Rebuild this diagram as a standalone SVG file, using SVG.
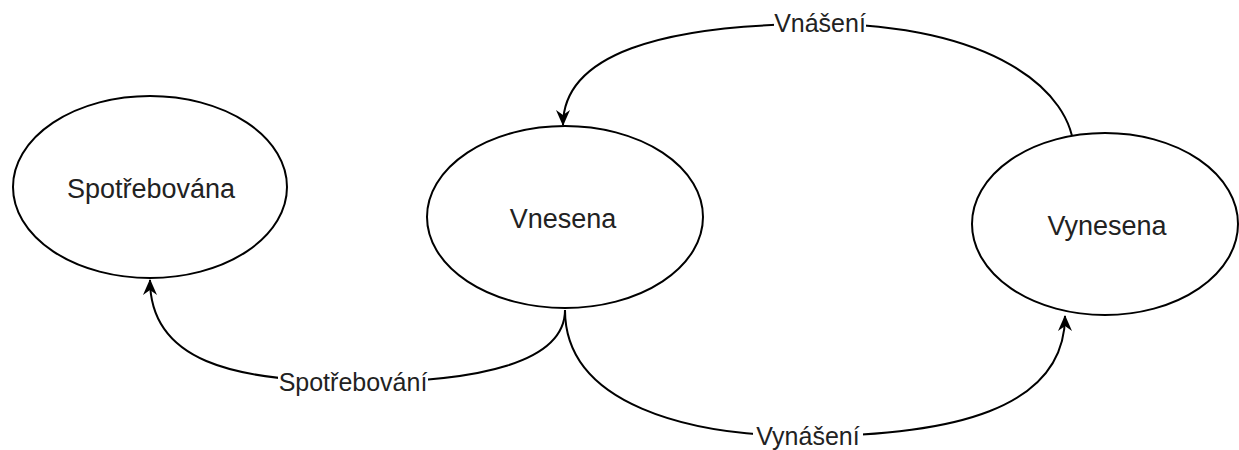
<svg xmlns="http://www.w3.org/2000/svg" width="1239" height="450" viewBox="0 0 1239 450">
<style>
.node{fill:#fff;stroke:#000;stroke-width:2}
.nt{font-family:"Liberation Sans",Arial,sans-serif;font-size:27px;fill:#222;text-anchor:middle}
.lt{font-family:"Liberation Sans",Arial,sans-serif;font-size:25px;fill:#222;text-anchor:middle}
.edge{fill:none;stroke:#000;stroke-width:2}
.lbg{fill:#fff}
</style>
<defs>
<marker id="arr" viewBox="0 0 16 14" refX="15" refY="7" markerWidth="16" markerHeight="14" markerUnits="userSpaceOnUse" orient="auto">
<path d="M0,0 L16,7 L0,14 L5,7 Z" fill="#000"/>
</marker>
</defs>
<g id="connectors">
<path class="edge" d="M1074,153 C1074,90 990,24 820,24 C660,24 563,55 563,125" marker-end="url(#arr)"/>
<path class="edge" d="M565,310 C565,362 480,382 360,382 C230,382 150,360 150,280" marker-end="url(#arr)"/>
<path class="edge" d="M565,310 C565,405 690,436 805,436 C950,436 1065,410 1065,316" marker-end="url(#arr)"/>
<rect class="lbg" x="774" y="10" width="92" height="28"/>
<text class="lt" x="820" y="32">Vnášení</text>
<rect class="lbg" x="278" y="368" width="150" height="28"/>
<text class="lt" x="353" y="391">Spotřebování</text>
<rect class="lbg" x="753" y="422" width="110" height="28"/>
<text class="lt" x="808" y="445">Vynášení</text>
</g>
<g id="spotrebovana">
<ellipse class="node" cx="150" cy="187" rx="137" ry="91"/>
<text class="nt" x="151" y="198">Spotřebována</text>
</g>
<g id="vnesena">
<ellipse class="node" cx="565" cy="217" rx="138" ry="91"/>
<text class="nt" x="563" y="228">Vnesena</text>
</g>
<g id="vynesena">
<ellipse class="node" cx="1105" cy="224" rx="133" ry="91"/>
<text class="nt" x="1107" y="235">Vynesena</text>
</g>
</svg>
